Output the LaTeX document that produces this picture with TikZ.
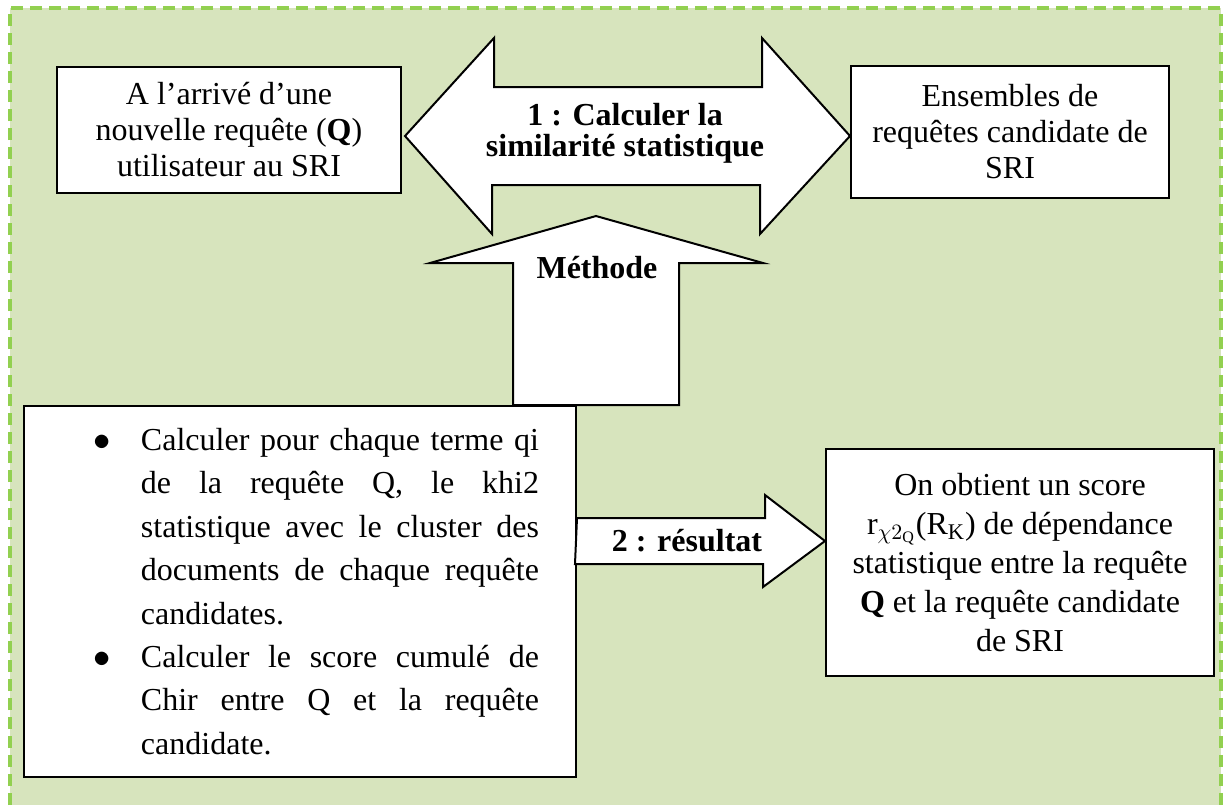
\documentclass[tikz,border=0pt]{standalone}
\usepackage{fontspec}
\setmainfont{Liberation Serif}
\usetikzlibrary{calc,positioning}
\definecolor{SriPanel}{HTML}{D7E4BD}
\definecolor{SriDash}{HTML}{92D050}
\begin{document}
\begin{tikzpicture}[x=0.5pt,y=-0.5pt,
    box/.style={draw=black,fill=white,line width=1pt,inner sep=0pt,align=center,
      font=\fontsize{16}{18}\selectfont},
    blockarrow/.style={draw=black,fill=white,line width=1pt,line join=miter},
    arrowlabel/.style={inner sep=0pt,align=center,
      font=\fontsize{16}{15.5}\selectfont\bfseries}]
  \useasboundingbox (0,0) rectangle (1226,805);
  \fill[SriPanel] (10,8) rectangle (1221,805);
  \draw[SriDash,line width=1.6pt,dash pattern=on 6pt off 3.5pt]
    (10,805) -- (10,8) -- (1221,8) -- (1221,805);

  \node[box,anchor=north west,minimum width=172pt,minimum height=63pt]
    (query) at (56,66) {A l’arrivé d’une\\nouvelle requête (\textbf{Q})\\utilisateur au SRI};
  \node[box,anchor=north west,minimum width=159pt,minimum height=66pt]
    (cand) at (850,65) {Ensembles de\\requêtes candidate de\\SRI};
  \node[box,anchor=north west,minimum width=276pt,minimum height=185.5pt,
    text width=276pt,align=justify,font=\fontsize{16}{21.7}\selectfont]
    (steps) at (23,405) {%
      \begin{list}{$\bullet$}{\setlength\leftmargin{58.5pt}\setlength\rightmargin{18.5pt}%
        \setlength\labelwidth{10pt}\setlength\labelsep{15pt}\setlength\itemsep{0pt}%
        \setlength\parsep{0pt}\setlength\topsep{0pt}\setlength\partopsep{0pt}}
      \item Calculer pour chaque terme qi\linebreak de la requête Q, le khi2\linebreak
        statistique avec le cluster des\linebreak documents de chaque requête\linebreak candidates.
      \item Calculer le score cumulé de\linebreak Chir entre Q et la requête\linebreak candidate.
      \end{list}\par\nointerlineskip\vspace{10.5pt}\hbox{}};
  \node[box,anchor=north west,minimum width=194pt,minimum height=113.5pt,
    font=\fontsize{16}{19.5}\selectfont]
    (result) at (825,448) {On obtient un score\\
      r$_{\chi2_{\mathrm{Q}}}$(R$_{\mathrm{K}}$) de dépendance\\
      statistique entre la requête\\\textbf{Q} et la requête candidate\\de SRI};

  \coordinate (simL) at ($(query.east |- 0,136)+(3,0)$);
  \coordinate (simR) at (cand.west |- 0,136);
  \draw[blockarrow] (simL) -- ++(89,-98) -- ++(0,49) -- ++(268,0) -- ++(0,-49)
    -- (simR) -- ++(-90,98) -- ++(0,-49) -- ++(-268,0) -- ++(0,49) -- cycle;

  \coordinate (methBase) at (596,0 |- steps.north);
  \coordinate (methTip) at (596,216);
  \draw[blockarrow] (methBase) ++(-83,0) -- ++(0,-142) -- ++(-83,0) -- (methTip)
    -- ++(167,47) -- ++(-84,0) -- ++(0,142) -- cycle;

  \coordinate (resL) at (steps.east |- 0,541);
  \coordinate (resR) at (result.west |- 0,541);
  \draw[blockarrow] (resL) ++(0,-23) -- ++(188,0) -- ++(0,-23) -- (resR)
    -- ++(-62,46) -- ++(0,-23) -- ++(-188,0) -- cycle;

  \node[arrowlabel] (simlabel) at (625,133) {1 : Calculer la\\similarité statistique};
  \node[arrowlabel] (methlabel) at (597,268) {Méthode};
  \node[arrowlabel] (reslabel) at (687,541) {2 : résultat};
\end{tikzpicture}
\end{document}
